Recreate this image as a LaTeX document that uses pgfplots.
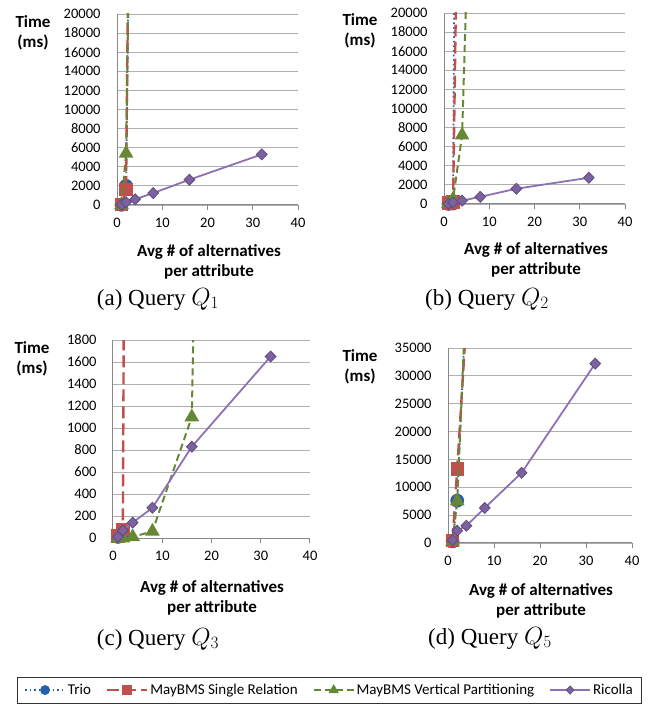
\documentclass[border=0pt]{standalone}
\usepackage{fontspec}
\setmainfont{Liberation Serif}
\setsansfont{Carlito}
\usepackage{pgfplots}
\pgfplotsset{compat=1.18}

\definecolor{trio}{RGB}{38,95,170}
\definecolor{srred}{RGB}{192,80,77}
\definecolor{vpgreen}{RGB}{102,136,52}
\definecolor{ricpurple}{RGB}{140,114,178}
\definecolor{ricfill}{RGB}{125,98,160}
\definecolor{ricedge}{RGB}{95,75,130}
\definecolor{axisgray}{RGB}{136,136,136}
\definecolor{gridgray}{RGB}{175,175,175}

\pgfplotsset{
  panel/.style={
    scale only axis, anchor=south west,
    xmin=0, xmax=40, ymin=0,
    xtick={0,10,...,40},
    axis lines*=left,
    axis line style={draw=axisgray, line width=1pt},
    ymajorgrids, grid style={draw=gridgray, line width=0.9pt},
    tick align=outside,
    major tick length=5pt,
    xtick style={draw=axisgray, line width=1pt},
    ytick style={draw=none},
    font=\sffamily\fontsize{14.5}{16}\selectfont,
    /pgf/number format/assume math mode=true,
    /pgf/number format/1000 sep={},
    scaled y ticks=false,
    yticklabel style={xshift=-8pt},
    xticklabel style={yshift=-5pt},
    clip mode=individual,
    legend image code/.code={\draw[mark repeat=2,mark phase=2,##1] plot coordinates {(0pt,0pt)(20pt,0pt)(40pt,0pt)};},
    legend image post style={mark size=4pt, mark indices={2}},
  },
  trioS/.style={color=trio, line width=1.8pt, dash pattern=on 1.6pt off 3pt,
    mark=*, mark size=6pt, mark options={solid, fill=trio, draw=trio}},
  srS/.style={color=srred, line width=2.4pt, dash pattern=on 12pt off 5pt,
    mark=square*, mark size=5.5pt, mark options={solid, fill=srred, draw=srred}},
  vpS/.style={color=vpgreen, line width=2pt, dash pattern=on 7pt off 4pt,
    mark=triangle*, mark size=6.5pt, mark options={solid, fill=vpgreen, draw=vpgreen}},
  ricS/.style={color=ricpurple, line width=1.8pt,
    mark=diamond*, mark size=5.5pt, mark options={solid, xscale=1.3, fill=ricfill, draw=ricedge, line width=0.8pt}},
}

\begin{document}
\begin{tikzpicture}
\useasboundingbox (0,0) rectangle (649pt,705pt);

% (a) Query Q1
\begin{axis}[panel, at={(117pt,500pt)}, width=181pt, height=191pt,
  ymax=20000, ytick={0,2000,...,20000}]
\addplot[trioS, mark indices={1,2}] coordinates {(1,20)(2,2000)(4,80000)};
\addplot[srS, mark indices={1,2}] coordinates {(1,50)(2,1600)(4,100000)};
\addplot[vpS, mark indices={1,2}] coordinates {(1,30)(2,5400)(4,70000)};
\addplot[ricS] coordinates {(1,30)(2,300)(4,600)(8,1250)(16,2650)(32,5300)};
\end{axis}

% (b) Query Q2
\begin{axis}[panel, at={(444pt,501pt)}, width=181pt, height=191pt,
  ymax=20000, ytick={0,2000,...,20000}]
\addplot[trioS, mark indices={1,2}] coordinates {(1,10)(2,50)(4,180000)};
\addplot[srS, mark indices={1,2}] coordinates {(1,100)(2,200)(4,66000)};
\addplot[vpS, mark indices={1,2,3}] coordinates {(1,50)(2,500)(4,7200)(8,71000)};
\addplot[ricS] coordinates {(1,20)(2,150)(4,350)(8,750)(16,1600)(32,2750)};
\end{axis}

% (c) Query Q3
\begin{axis}[panel, at={(113pt,167pt)}, width=197pt, height=198pt,
  ymax=1800, ytick={0,200,...,1800},
  legend columns=4,
  legend style={at={(axis description cs:1.099,-0.768)}, anchor=center,
    draw=black!80, line width=0.8pt, fill=white,
    font=\sffamily\fontsize{15}{17}\selectfont, inner xsep=7pt, inner ysep=5pt,
    /tikz/every even column/.append style={column sep=13pt}}]
\addplot[trioS] coordinates {(1,10)(2,50)};
\addlegendentry{Trio}
\addplot[srS, mark indices={1,2}] coordinates {(1,20)(2,80)(4,20000)};
\addlegendentry{MayBMS Single Relation}
\addplot[vpS, mark indices={1,2,3,4,5}] coordinates {(1,0)(2,0)(4,10)(8,60)(16,1100)(32,40000)};
\addlegendentry{MayBMS Vertical Partitioning}
\addplot[ricS] coordinates {(1,10)(2,70)(4,140)(8,275)(16,830)(32,1650)};
\addlegendentry{Ricolla}
\end{axis}

% (d) Query Q5
\begin{axis}[panel, at={(448pt,162pt)}, width=184pt, height=195pt,
  ymax=35000, ytick={0,5000,...,35000}]
\addplot[trioS, mark indices={1,2}] coordinates {(1,300)(2,7600)(4,45000)};
\addplot[srS, mark indices={1,2}] coordinates {(1,500)(2,13300)(4,40000)};
\addplot[vpS, mark indices={1,2}] coordinates {(1,300)(2,7500)(4,46000)};
\addplot[ricS] coordinates {(1,500)(2,2200)(4,3100)(8,6300)(16,12600)(32,32200)};
\end{axis}

\tikzset{axlab/.style={font=\sffamily\bfseries\fontsize{17}{20}\selectfont, align=center},
         capt/.style={font=\fontsize{23}{26}\selectfont}}
\node[axlab] at (33pt,672pt) {Time\\(ms)};
\node[axlab] at (360pt,674pt) {Time\\(ms)};
\node[axlab] at (32pt,346pt) {Time\\(ms)};
\node[axlab] at (360pt,338pt) {Time\\(ms)};
\node[axlab] at (209pt,443pt) {Avg \# of alternatives\\per attribute};
\node[axlab] at (536pt,445pt) {Avg \# of alternatives\\per attribute};
\node[axlab] at (212pt,107pt) {Avg \# of alternatives\\per attribute};
\node[axlab] at (541pt,104pt) {Avg \# of alternatives\\per attribute};
\node[capt] at (158pt,406pt) {(a) Query $Q_1$};
\node[capt] at (487pt,406pt) {(b) Query $Q_2$};
\node[capt] at (158pt,66pt) {(c) Query $Q_3$};
\node[capt] at (490pt,67pt) {(d) Query $Q_5$};
\end{tikzpicture}
\end{document}
